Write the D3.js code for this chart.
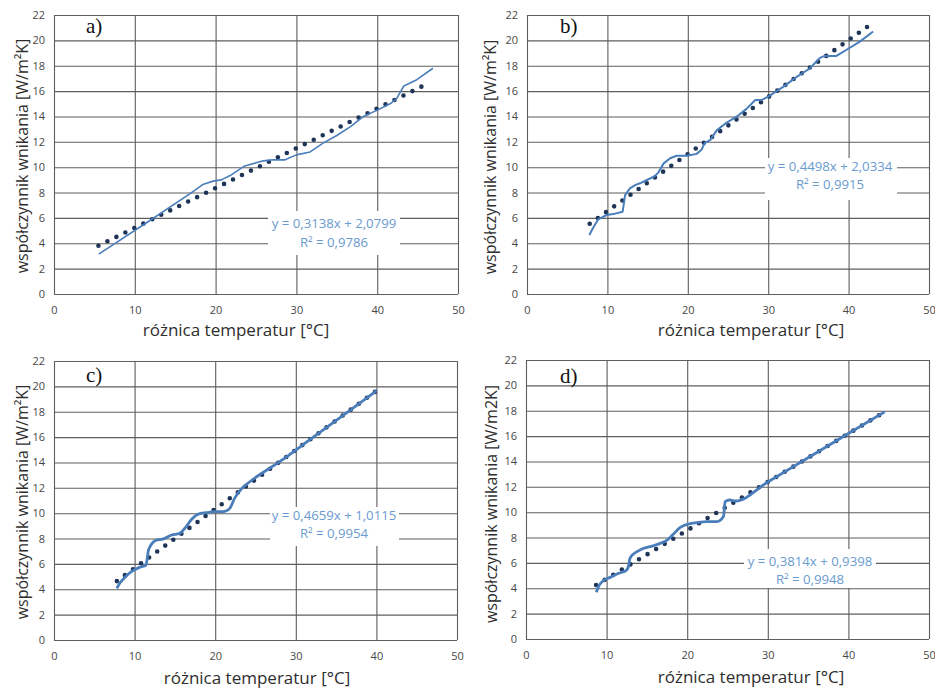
<!DOCTYPE html>
<html>
<head>
<meta charset="utf-8">
<script src="https://cdn.jsdelivr.net/npm/d3@7"></script>
<style>
  body { margin: 0; background: #fff; }
  svg { display: block; }
</style>
</head>
<body>
<svg id="chart" width="935" height="688"></svg>
<script>
// ---- axis scales and ticks ----
const xDomain = [0, 50];
const yDomain = [0, 22];
const xTicks = [0, 10, 20, 30, 40, 50];
const yTicks = [0, 2, 4, 6, 8, 10, 12, 14, 16, 18, 20, 22];

// ---- measured series: temperature difference [°C] vs heat transfer coefficient ----
const tempA  = [5.54, 11.4, 16.8, 18.5, 19.7, 20.7, 21.8, 23.6, 25.9, 27.1, 28.6, 30.0, 31.7, 33.3, 35.0, 36.7, 38.3, 40.0, 41.6, 42.4, 43.3, 44.9, 46.9];
const alphaA = [3.15, 5.6, 7.9, 8.66, 8.9, 9.0, 9.34, 10.1, 10.5, 10.58, 10.58, 10.97, 11.2, 11.9, 12.5, 13.2, 14.0, 14.5, 15.0, 15.4, 16.4, 16.9, 17.8];

const tempB  = [7.75, 8.3, 8.87, 9.9, 10.7, 11.9, 12.2, 12.8, 13.5, 14.05, 15.1, 15.9, 16.3, 17.0, 17.8, 18.6, 19.9, 21.1, 21.7, 22.1, 22.8, 23.6, 24.8, 26.1, 27.3, 28.4, 29.2, 30.0, 31.9, 33.5, 35.2, 36.4, 37.0, 38.5, 39.7, 41.4, 43.05];
const alphaB = [4.65, 5.3, 5.89, 6.23, 6.3, 6.49, 7.8, 8.33, 8.6, 8.73, 9.05, 9.3, 9.55, 10.3, 10.7, 10.9, 10.9, 11.05, 11.37, 11.9, 12.15, 12.9, 13.5, 14.0, 14.6, 15.3, 15.3, 15.57, 16.35, 17.1, 17.8, 18.6, 18.77, 18.77, 19.24, 19.9, 20.7];

const tempC  = [7.8, 8.15, 8.56, 9.6, 10.6, 11.4, 11.75, 12.7, 13.5, 14.6, 15.6, 16.4, 17.0, 17.9, 18.9, 19.9, 21.0, 21.8, 22.4, 23.2, 24.3, 28, 32, 36, 40];
const alphaC = [4.07, 4.47, 4.78, 5.39, 5.73, 5.89, 7.15, 7.88, 7.96, 8.28, 8.41, 8.94, 9.46, 9.93, 10.04, 10.12, 10.12, 10.38, 11.17, 11.88, 12.48, 14.06, 15.92, 17.78, 19.65];

const tempD  = [8.72, 9.0, 9.6, 10.45, 11.5, 12.4, 12.7, 12.9, 13.55, 14.4, 15.4, 16.65, 17.5, 18.3, 19.1, 20.2, 21.2, 22.4, 23.7, 24.5, 24.7, 25.3, 26.0, 30, 35, 40, 44.5];
const alphaD = [3.68, 4.13, 4.6, 4.86, 5.18, 5.39, 5.7, 6.36, 6.8, 7.1, 7.28, 7.54, 7.8, 8.28, 8.78, 9.07, 9.17, 9.25, 9.25, 9.65, 10.83, 10.96, 10.88, 12.38, 14.29, 16.2, 17.91];

// ---- linear trend lines (y = a·x + b) ----
const slopes     = [0.3138, 0.4498, 0.4659, 0.3814];
const intercepts = [2.0799, 2.0334, 1.0115, 0.9398];
const rSquared   = [0.9786, 0.9915, 0.9954, 0.9948];
const trendFrom  = [5.5, 7.8, 7.8, 8.7];
const trendTo    = [46.0, 42.3, 40.0, 44.3];

// ---- text ----
const panelLetters = ["a)", "b)", "c)", "d)"];
const xTitle = "różnica temperatur [°C]";
const yTitles = [
  "współczynnik wnikania [W/m²K]",
  "współczynnik wnikania [W/m²K]",
  "współczynnik wnikania [W/m²K]",
  "współczynnik wnikania [W/m2K]"
];

const fmt = v => v.toFixed(4).replace(".", ",");
const eqText = i => `y = ${fmt(slopes[i])}x + ${fmt(intercepts[i])}`;
const r2Text = i => `R² = ${fmt(rSquared[i])}`;

const seriesX = [tempA, tempB, tempC, tempD];
const seriesY = [alphaA, alphaB, alphaC, alphaD];

// ---- layout of the four panels ----
const layout = [
  { l: 54,  r: 458, t: 15,  b: 294, letter: [86, 33],  xt: [236, 336], yt: [22, 156],
    box: [268, 211, 132, 44], eq: [334, 228, 247], lw: 1.6, smooth: false },
  { l: 527, r: 929, t: 15,  b: 294, letter: [560, 33], xt: [751, 336], yt: [490, 157],
    box: [765, 158, 132, 42], eq: [830, 171, 189], lw: 2.0, smooth: false },
  { l: 54,  r: 457, t: 361, b: 640, letter: [86, 382], xt: [257, 684], yt: [22, 502],
    box: [270, 507, 129, 39], eq: [334, 520, 538], lw: 2.8, smooth: true },
  { l: 526, r: 929, t: 360, b: 639, letter: [560, 383], xt: [751, 683], yt: [491, 504],
    box: [744, 549, 132, 39], eq: [810, 566, 584], lw: 2.8, smooth: true }
];

const svg = d3.select("#chart");
const gridColor = "#5e5e5e";
const lineColor = "#4a7ebb";
const dotColor = "#1f3558";
const eqColor = "#6a9bd0";
const tickColor = "#474747";
const titleColor = "#2e2e2e";
const font = "'Open Sans', 'Liberation Sans', sans-serif";

layout.forEach((p, i) => {
  const x = d3.scaleLinear().domain(xDomain).range([p.l, p.r]);
  const y = d3.scaleLinear().domain(yDomain).range([p.b, p.t]);
  const g = svg.append("g");

  // gridlines
  g.append("g")
    .attr("transform", `translate(0,${p.t})`)
    .call(d3.axisBottom(x).tickValues(xTicks).tickSize(p.b - p.t).tickFormat(""))
    .call(a => a.select(".domain").remove())
    .call(a => a.selectAll("line").attr("stroke", gridColor).attr("stroke-width", 1.1));
  g.append("g")
    .attr("transform", `translate(${p.l},0)`)
    .call(d3.axisRight(y).tickValues(yTicks).tickSize(p.r - p.l).tickFormat(""))
    .call(a => a.select(".domain").remove())
    .call(a => a.selectAll("line").attr("stroke", gridColor).attr("stroke-width", 1.1));

  // tick labels
  const xa = g.append("g").attr("transform", `translate(0,${p.b})`)
    .call(d3.axisBottom(x).tickValues(xTicks).tickSize(0).tickPadding(12));
  xa.select(".domain").remove();
  xa.selectAll("text").attr("fill", tickColor).style("font", `11px ${font}`);
  const ya = g.append("g").attr("transform", `translate(${p.l},0)`)
    .call(d3.axisLeft(y).tickValues(yTicks).tickSize(0).tickPadding(9));
  ya.select(".domain").remove();
  ya.selectAll("text").attr("fill", tickColor).style("font", `11px ${font}`);

  // equation label box (covers the grid)
  g.append("rect")
    .attr("x", p.box[0]).attr("y", p.box[1])
    .attr("width", p.box[2]).attr("height", p.box[3])
    .attr("fill", "#fff");

  // trend line drawn as round dots
  const tr = [trendFrom[i], trendTo[i]].map(t => [t, slopes[i] * t + intercepts[i]]);
  g.append("path")
    .attr("d", d3.line().x(d => x(d[0])).y(d => y(d[1]))(tr))
    .attr("fill", "none")
    .attr("stroke", dotColor)
    .attr("stroke-width", 4.6)
    .attr("stroke-linecap", "round")
    .attr("stroke-dasharray", "0 10");

  // measured series
  const pts = seriesX[i].map((t, k) => [t, seriesY[i][k]]);
  g.append("path")
    .attr("d", d3.line().curve(p.smooth ? d3.curveMonotoneX : d3.curveLinear)
      .x(d => x(d[0])).y(d => y(d[1]))(pts))
    .attr("fill", "none")
    .attr("stroke", lineColor)
    .attr("stroke-width", p.lw)
    .attr("stroke-linejoin", "round");

  // equation text
  g.append("text").attr("x", p.eq[0]).attr("y", p.eq[1])
    .attr("text-anchor", "middle").attr("fill", eqColor)
    .style("font", `13.2px ${font}`).text(eqText(i));
  g.append("text").attr("x", p.eq[0]).attr("y", p.eq[2])
    .attr("text-anchor", "middle").attr("fill", eqColor)
    .style("font", `13.2px ${font}`).text(r2Text(i));

  // panel letter
  g.append("text").attr("x", p.letter[0]).attr("y", p.letter[1])
    .style("font", "21px 'Liberation Serif', 'Times New Roman', serif")
    .attr("fill", "#111").text(panelLetters[i]);

  // axis titles
  g.append("text").attr("x", p.xt[0]).attr("y", p.xt[1])
    .attr("text-anchor", "middle").attr("fill", titleColor)
    .style("font", `17px ${font}`).text(xTitle);
  g.append("text")
    .attr("transform", `translate(${p.yt[0]},${p.yt[1]}) rotate(-90)`)
    .attr("text-anchor", "middle").attr("dominant-baseline", "central")
    .attr("fill", titleColor)
    .style("font", `16px ${font}`).text(yTitles[i]);
});
</script>
</body>
</html>
